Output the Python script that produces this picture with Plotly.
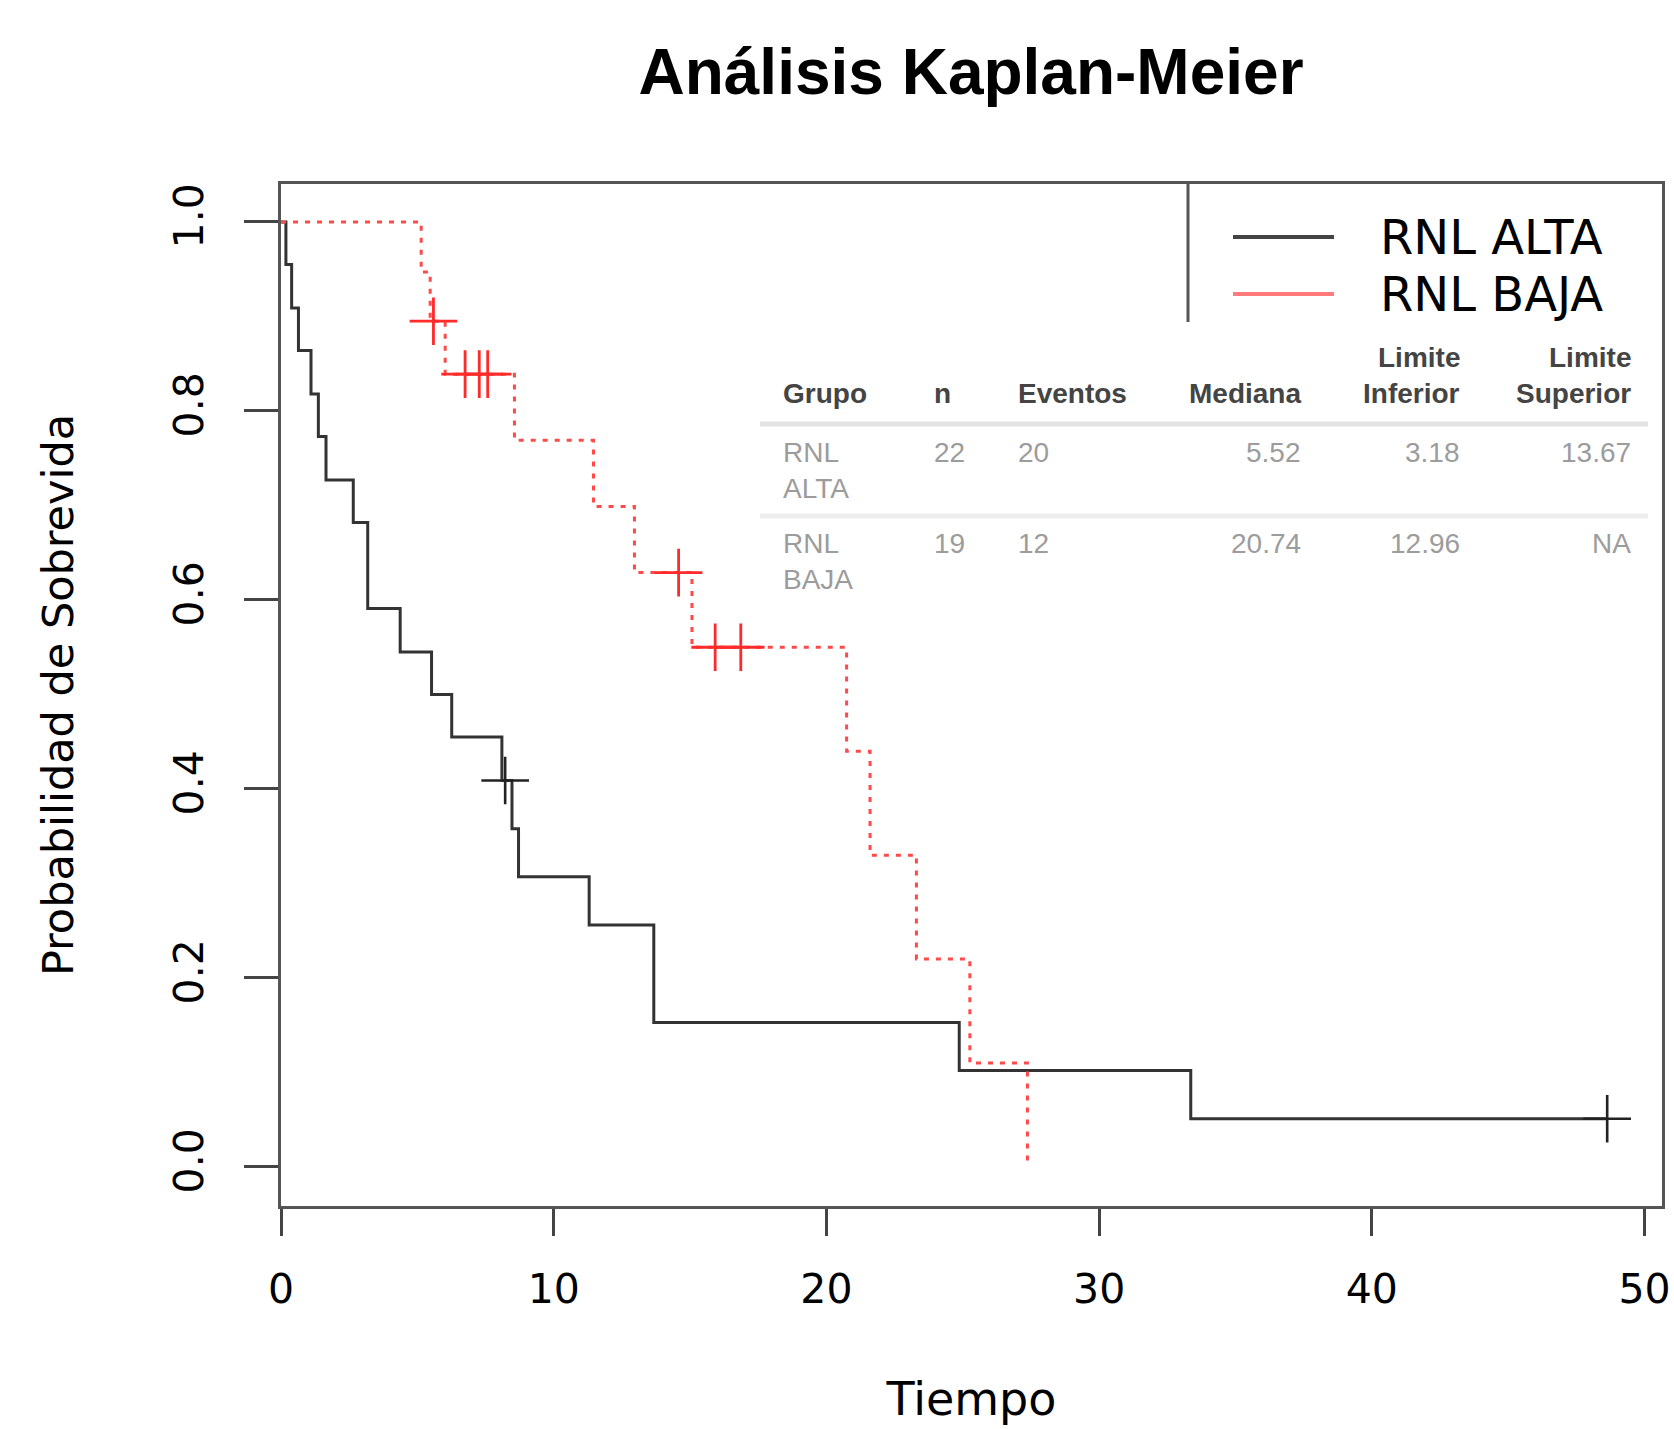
import plotly.graph_objects as go

# ---------------- data ----------------
alta_t = [0, 0.18, 0.39, 0.64, 1.1, 1.37, 1.65, 2.65, 3.18, 4.37, 5.52, 6.26,
          8.1, 8.47, 8.71, 11.3, 13.67, 24.87, 33.36, 48.63]
alta_s = [1.0, 0.955, 0.909, 0.864, 0.818, 0.773, 0.727, 0.682, 0.591, 0.545,
          0.5, 0.455, 0.409, 0.358, 0.307, 0.256, 0.153, 0.102, 0.051, 0.051]
alta_cens_t = [8.22, 48.63]
alta_cens_s = [0.409, 0.051]

baja_t = [0, 5.14, 5.47, 6.02, 8.56, 11.46, 12.96, 15.07, 20.74, 21.6, 23.3,
          25.26, 27.37]
baja_s = [1.0, 0.947, 0.895, 0.839, 0.769, 0.699, 0.629, 0.550, 0.440, 0.330,
          0.220, 0.110, 0.0]
baja_cens_t = [5.59, 6.75, 7.27, 7.58, 14.58, 15.92, 16.86]
baja_cens_s = [0.895, 0.839, 0.839, 0.839, 0.629, 0.550, 0.550]

series_names = ["RNL ALTA", "RNL BAJA"]

x_ticks = [0, 10, 20, 30, 40, 50]
y_ticks = [0.0, 0.2, 0.4, 0.6, 0.8, 1.0]
y_tick_text = ["0.0", "0.2", "0.4", "0.6", "0.8", "1.0"]

table_header = ["Grupo", "n", "Eventos", "Mediana", "Limite\nInferior", "Limite\nSuperior"]
table_rows = [
    ["RNL\nALTA", "22", "20", "5.52", "3.18", "13.67"],
    ["RNL\nBAJA", "19", "12", "20.74", "12.96", "NA"],
]

# ---------------- layout geometry (pixels) ----------------
W, H = 1674, 1429
L, R, T, B = 281, 1662, 184, 1206


def px(x):
    return (x - L) / (R - L)


def py(y):
    return (B - y) / (B - T)


BLACK = "#333333"
RED = "#ff4a4a"

fig = go.Figure()

fig.add_trace(go.Scatter(x=alta_t, y=alta_s, mode="lines", name=series_names[0],
                         line=dict(color=BLACK, width=3, shape="hv"),
                         showlegend=False))
fig.add_trace(go.Scatter(x=alta_cens_t, y=alta_cens_s, mode="markers",
                         marker=dict(symbol="cross-thin", size=34,
                                     line=dict(color="#222222", width=2.6)),
                         showlegend=False))
fig.add_trace(go.Scatter(x=baja_t, y=baja_s, mode="lines", name=series_names[1],
                         line=dict(color=RED, width=3, shape="hv", dash="5px,7px"),
                         showlegend=False))
fig.add_trace(go.Scatter(x=baja_cens_t, y=baja_cens_s, mode="markers",
                         marker=dict(symbol="cross-thin", size=34,
                                     line=dict(color="#ff2a2a", width=2.8)),
                         showlegend=False))

shapes = []
annotations = []

# legend (drawn manually to match the long line samples)
shapes.append(dict(type="line", xref="paper", yref="paper",
                   x0=px(1188), x1=px(1188), y0=py(184), y1=py(322),
                   line=dict(color="#555555", width=3)))
leg_y = [237, 294]
leg_col = ["#444444", "#ff7b7b"]
for name, yy, col in zip(series_names, leg_y, leg_col):
    shapes.append(dict(type="line", xref="paper", yref="paper",
                       x0=px(1233), x1=px(1334), y0=py(yy), y1=py(yy),
                       line=dict(color=col, width=4)))
    annotations.append(dict(xref="paper", yref="paper", x=px(1378), y=py(yy),
                            xanchor="left", yanchor="middle", showarrow=False,
                            text=name, font=dict(family="DejaVu Sans", size=48,
                                                 color="#000000")))

# summary table
col_x = [781, 932, 1016, 1303, 1462, 1633]
col_anchor = ["left", "left", "left", "right", "right", "right"]
header_lines_y = {1: [393.5], 2: [357.5, 393.5]}
for txt, cx, anc in zip(table_header, col_x, col_anchor):
    parts = txt.split("\n")
    for part, yy in zip(parts, header_lines_y[len(parts)]):
        annotations.append(dict(xref="paper", yref="paper", x=px(cx), y=py(yy),
                                xanchor=anc, yanchor="middle", showarrow=False,
                                text="<b>%s</b>" % part,
                                font=dict(family="Liberation Sans", size=28,
                                          color="#444444")))
row_y = [453, 543]
for row, ry in zip(table_rows, row_y):
    for txt, cx, anc in zip(row, col_x, col_anchor):
        for k, part in enumerate(txt.split("\n")):
            annotations.append(dict(xref="paper", yref="paper", x=px(cx),
                                    y=py(ry + 36 * k), xanchor=anc,
                                    yanchor="middle", showarrow=False, text=part,
                                    font=dict(family="Liberation Sans", size=28,
                                              color="#9c9c9c")))
for yy, col in [(424, "#e2e2e2"), (516, "#ededed")]:
    shapes.append(dict(type="line", xref="paper", yref="paper",
                       x0=px(760), x1=px(1648), y0=py(yy), y1=py(yy),
                       line=dict(color=col, width=5)))

fig.update_layout(
    width=W, height=H,
    margin=dict(l=L, r=W - R, t=T, b=H - B, autoexpand=False),
    paper_bgcolor="white", plot_bgcolor="white",
    title=dict(text="<b>Análisis Kaplan-Meier</b>", xref="container",
               x=971 / W, xanchor="center",
               y=1 - 72 / H, yanchor="middle", yref="container",
               font=dict(family="Liberation Sans", size=64, color="#000000")),
    shapes=shapes, annotations=annotations,
    showlegend=False,
)

fig.update_xaxes(range=[0, 50.64], tickvals=x_ticks, ticks="outside",
                 ticklen=27, tickwidth=3, tickcolor="#444444",
                 showline=True, linecolor="#555555", linewidth=3, mirror=True,
                 showgrid=False, zeroline=False, ticklabelstandoff=18,
                 tickfont=dict(family="DejaVu Sans", size=41, color="#000000"),
                 title=dict(text="Tiempo", standoff=71,
                            font=dict(family="DejaVu Sans", size=46,
                                      color="#000000")))
fig.update_yaxes(range=[-0.0413, 1.0402], tickvals=y_ticks, ticktext=y_tick_text,
                 tickangle=-90, ticks="outside", ticklen=34, tickwidth=3,
                 tickcolor="#444444", showline=True, linecolor="#555555",
                 linewidth=3, mirror=True, showgrid=False, zeroline=False,
                 ticklabelstandoff=25,
                 tickfont=dict(family="DejaVu Sans", size=41, color="#000000"),
                 title=dict(text="Probabilidad de Sobrevida", standoff=78,
                            font=dict(family="DejaVu Sans", size=43,
                                      color="#000000")))

fig.write_html("out.html",
               config={"displayModeBar": False},
               post_script="document.body.style.margin='0';"
                           "document.body.style.padding='0';"
                           "document.documentElement.style.margin='0';")
